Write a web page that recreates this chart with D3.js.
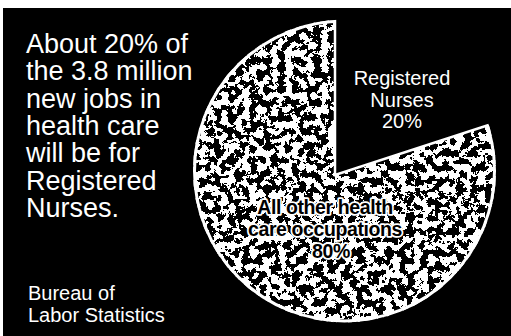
<!DOCTYPE html>
<html>
<head>
<meta charset="utf-8">
<script src="https://cdn.jsdelivr.net/npm/d3@7"></script>
<style>
html,body{margin:0;padding:0;background:#fff;}
svg{display:block;}
</style>
</head>
<body>
<svg id="chart" width="511" height="336"></svg>
<script>
// ---- data ----
const categories = ["Registered Nurses", "All other health care occupations"];
const shares = [20, 80];
const sliceLabels = [["Registered", "Nurses", "20%"], ["All other health", "care occupations", "80%"]];
const headlineLines = ["About 20% of", "the 3.8 million", "new jobs in", "health care", "will be for", "Registered", "Nurses."];
const sourceLines = ["Bureau of", "Labor Statistics"];

// ---- layout ----
const W = 511, H = 336;
const apex = [335, 175];          // corner of the missing wedge
const circ = {cx: 344.5, cy: 171, r: 151.5};
const font = "'Liberation Sans', Arial, Helvetica, sans-serif";

const svg = d3.select("#chart");
svg.append("rect").attr("width", W).attr("height", H).attr("fill", "#fff");
svg.append("rect").attr("x", 3).attr("y", 8).attr("width", W - 3).attr("height", H - 8).attr("fill", "#000");

const defs = svg.append("defs");
const f = defs.append("filter").attr("id", "speckle")
  .attr("filterUnits", "userSpaceOnUse")
  .attr("x", 185).attr("y", 12).attr("width", 326).attr("height", 320)
  .attr("color-interpolation-filters", "sRGB");
f.append("feTurbulence").attr("type", "fractalNoise").attr("baseFrequency", 0.14)
  .attr("numOctaves", 5).attr("seed", 11);
f.append("feColorMatrix").attr("type", "saturate").attr("values", 0);
const ct = f.append("feComponentTransfer");
["feFuncR", "feFuncG", "feFuncB"].forEach(n => ct.append(n).attr("type", "discrete").attr("tableValues", "0 1"));
ct.append("feFuncA").attr("type", "linear").attr("slope", 0).attr("intercept", 1);

const pie = d3.pie().sort(null).value(d => d);
const arcsData = pie(shares);
const arcGen = d3.arc().innerRadius(0).outerRadius(200);
const otherArc = arcsData[1];

defs.append("clipPath").attr("id", "circClip")
  .append("circle").attr("cx", circ.cx).attr("cy", circ.cy).attr("r", circ.r);
defs.append("clipPath").attr("id", "sliceClip")
  .append("path").attr("transform", `translate(${apex[0]},${apex[1]})`).attr("d", arcGen(otherArc));

// textured slice
const g = svg.append("g").attr("clip-path", "url(#circClip)");
g.append("g").attr("clip-path", "url(#sliceClip)")
  .append("rect").attr("x", 185).attr("y", 12).attr("width", 326).attr("height", 320)
  .attr("fill", "#777").attr("filter", "url(#speckle)");
// white rim along straight edges
g.append("path").attr("transform", `translate(${apex[0]},${apex[1]})`)
  .attr("d", arcGen(otherArc)).attr("fill", "none").attr("stroke", "#fff").attr("stroke-width", 2.5);
// white rim along the round edge
svg.append("g").attr("clip-path", "url(#sliceClip)")
  .append("circle").attr("cx", circ.cx).attr("cy", circ.cy).attr("r", circ.r - 1.5)
  .attr("fill", "none").attr("stroke", "#fff").attr("stroke-width", 3);

// headline
const hl = svg.append("text").attr("font-family", font).attr("font-size", 27).attr("fill", "#fff");
headlineLines.forEach((t, i) => hl.append("tspan").attr("x", 26).attr("y", 53 + i * 27.3).text(t));

// source
sourceLines.forEach((t, i) => svg.append("text").attr("font-family", font).attr("font-size", 20)
  .attr("fill", "#fff").attr("x", 28).attr("y", 300 + i * 21.5).text(t));

// Registered nurses label (in empty wedge)
const rn = svg.append("text").attr("font-family", font).attr("font-size", 20)
  .attr("fill", "#fff").attr("text-anchor", "middle");
sliceLabels[0].forEach((t, i) => rn.append("tspan").attr("x", 402).attr("y", 85 + i * 21.5).text(t));

// Other occupations label
const ot = svg.append("text").attr("font-family", font).attr("font-size", 19.5).attr("font-weight", "bold")
  .attr("letter-spacing", -0.4).attr("fill", "#000").attr("stroke", "#fff").attr("stroke-width", 3.5)
  .attr("stroke-linejoin", "round").attr("paint-order", "stroke").attr("text-anchor", "middle");
sliceLabels[1].forEach((t, i) => ot.append("tspan").attr("x", i === 2 ? 331 : 325).attr("y", [214, 236, 258][i]).text(t));
</script>
</body>
</html>
